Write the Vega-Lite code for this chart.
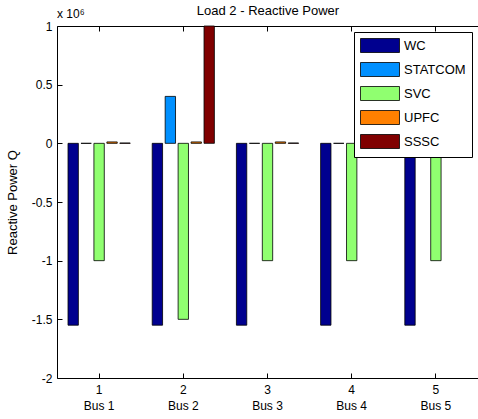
{
  "$schema": "https://vega.github.io/schema/vega-lite/v6.json",
  "autosize": "none",
  "width": 421,
  "height": 352,
  "padding": {"left": 57, "top": 26, "right": 0, "bottom": 41},
  "background": "white",
  "config": {
    "font": "Liberation Sans",
    "view": {"stroke": null},
    "axis": {"domainColor": "black", "tickColor": "black", "labelColor": "black", "titleColor": "black", "labelFontSize": 12, "titleFontSize": 13, "titleFontWeight": "normal", "grid": false, "domainWidth": 1, "tickWidth": 1}
  },
  "data": {"values": [
    {"bus": 1, "series": "WC", "value": -1550000},
    {"bus": 1, "series": "STATCOM", "value": 0},
    {"bus": 1, "series": "SVC", "value": -1000000},
    {"bus": 1, "series": "UPFC", "value": 12000},
    {"bus": 1, "series": "SSSC", "value": 3000},
    {"bus": 2, "series": "WC", "value": -1550000},
    {"bus": 2, "series": "STATCOM", "value": 400000},
    {"bus": 2, "series": "SVC", "value": -1500000},
    {"bus": 2, "series": "UPFC", "value": 12000},
    {"bus": 2, "series": "SSSC", "value": 1000000},
    {"bus": 3, "series": "WC", "value": -1550000},
    {"bus": 3, "series": "STATCOM", "value": 0},
    {"bus": 3, "series": "SVC", "value": -1000000},
    {"bus": 3, "series": "UPFC", "value": 12000},
    {"bus": 3, "series": "SSSC", "value": 3000},
    {"bus": 4, "series": "WC", "value": -1550000},
    {"bus": 4, "series": "STATCOM", "value": 0},
    {"bus": 4, "series": "SVC", "value": -1000000},
    {"bus": 4, "series": "UPFC", "value": 12000},
    {"bus": 4, "series": "SSSC", "value": 3000},
    {"bus": 5, "series": "WC", "value": -1550000},
    {"bus": 5, "series": "STATCOM", "value": 0},
    {"bus": 5, "series": "SVC", "value": -1000000},
    {"bus": 5, "series": "UPFC", "value": 12000},
    {"bus": 5, "series": "SSSC", "value": 3000}
  ]},
  "resolve": {"axis": {"x": "independent"}},
  "layer": [
    {
      "mark": {"type": "bar", "stroke": "black", "strokeWidth": 0.8, "opacity": 1},
      "encoding": {
        "x": {"field": "bus", "type": "ordinal", "scale": {"paddingInner": 0, "paddingOuter": 0},
          "axis": {"title": null, "labelAngle": 0, "labelExpr": "[datum.label, 'Bus ' + datum.label]", "labelLineHeight": 16, "tickSize": -5, "labelPadding": 11, "domainColor": "black"}},
        "xOffset": {"field": "series", "type": "nominal", "sort": ["WC", "STATCOM", "SVC", "UPFC", "SSSC"], "scale": {"paddingInner": 0.2, "paddingOuter": 0.85}},
        "y": {"field": "value", "type": "quantitative", "scale": {"domain": [-2000000, 1000000], "nice": false, "zero": false},
          "axis": {"title": "Reactive Power Q", "values": [-2000000, -1500000, -1000000, -500000, 0, 500000, 1000000], "labelExpr": "datum.value / 1000000 + ''", "tickSize": -5, "labelPadding": 10, "titlePadding": 12}},
        "color": {"field": "series", "type": "nominal", "sort": ["WC", "STATCOM", "SVC", "UPFC", "SSSC"],
          "scale": {"domain": ["WC", "STATCOM", "SVC", "UPFC", "SSSC"], "range": ["#00008F", "#0090FF", "#90FF70", "#FF8000", "#800000"]},
          "legend": {"title": null, "orient": "top-right", "offset": 6, "padding": 6, "strokeColor": "black", "fillColor": "white",
            "symbolType": "M-1,-1H4.57V1H-1Z", "symbolSize": 196, "symbolStrokeColor": "black", "symbolStrokeWidth": 0.8, "symbolOpacity": 1,
            "labelFontSize": 13, "labelColor": "black", "labelOffset": 29, "rowPadding": 5}}
      }
    },
    {
      "mark": {"type": "bar", "opacity": 0},
      "encoding": {
        "x": {"field": "bus", "type": "ordinal", "axis": {"orient": "top", "title": "Load 2 - Reactive Power", "titlePadding": 8, "titleFontSize": 13, "labels": false, "tickSize": -5, "domainColor": "black"}},
        "y": {"field": "value", "type": "quantitative"}
      }
    },
    {
      "data": {"values": [{"label": "x 10⁶", "v": 1000000}]},
      "mark": {"type": "text", "align": "left", "baseline": "alphabetic", "dy": -8, "fontSize": 12, "color": "black"},
      "encoding": {
        "text": {"field": "label"},
        "x": {"value": 0},
        "y": {"field": "v", "type": "quantitative"}
      }
    }
  ]
}
